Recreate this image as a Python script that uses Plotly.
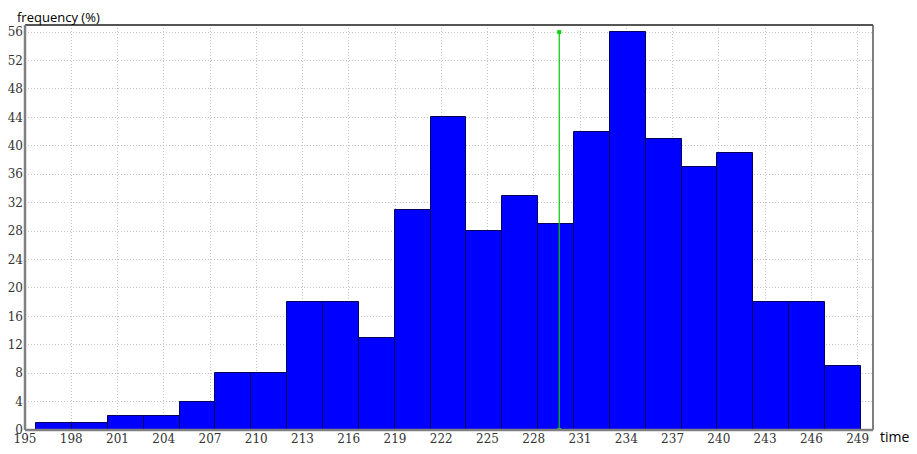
import plotly.graph_objects as go

# data
bin_start = 195.73
bin_width = 2.325
counts = [1, 1, 2, 2, 4, 8, 8, 18, 18, 13, 31, 44, 28, 33, 29, 42, 56, 41, 37, 39, 18, 18, 9]
marker_x = [229.65, 229.65]
marker_y = [0, 56]
x_ticks = list(range(195, 250, 3))
y_ticks = list(range(0, 57, 4))

centers = [bin_start + bin_width * (i + 0.5) for i in range(len(counts))]

fig = go.Figure()
fig.add_trace(go.Bar(
    x=centers, y=counts, width=[bin_width] * len(counts),
    marker=dict(color="#0000FF", line=dict(color="#00005a", width=1)),
    hoverinfo="skip", showlegend=False,
))
fig.add_trace(go.Scatter(
    x=marker_x, y=marker_y, mode="lines+markers",
    line=dict(color="#00c800", width=1.2),
    marker=dict(symbol="square", size=4, color="#10d010"),
    hoverinfo="skip", showlegend=False,
))

tickfont = dict(family="DejaVu Serif", size=12, color="#333333")
fig.update_layout(
    width=909, height=446,
    margin=dict(l=17, r=44, t=17, b=24, autoexpand=False),
    paper_bgcolor="white", plot_bgcolor="white",
    bargap=0,
    xaxis=dict(
        range=[195, 250], tickmode="array", tickvals=x_ticks,
        ticktext=[str(v) for v in x_ticks], automargin=False,
        showgrid=True, gridcolor="#c4c4c4", griddash="1px,2px", gridwidth=1,
        zeroline=False, showline=False, ticks="", tickfont=tickfont,
    ),
    yaxis=dict(
        range=[0, 57], tickmode="array", tickvals=y_ticks,
        ticktext=[str(v) for v in y_ticks], automargin=False,
        showgrid=True, gridcolor="#c4c4c4", griddash="1px,2px", gridwidth=1,
        zeroline=False, showline=False, ticks="", tickfont=tickfont,
        ticklabelstandoff=1,
    ),
    shapes=[
        dict(type="line", xref="paper", yref="paper", x0=0, x1=1, y0=1, y1=1,
             line=dict(color="#555555", width=2)),
        dict(type="line", xref="paper", yref="paper", x0=1, x1=1, y0=0, y1=1,
             line=dict(color="#555555", width=1.5)),
        dict(type="line", xref="paper", yref="paper", x0=0, x1=0, y0=0, y1=1,
             line=dict(color="#808080", width=2.5)),
        dict(type="line", xref="paper", yref="paper", x0=0, x1=1, y0=0, y1=0,
             line=dict(color="#808080", width=2.5)),
    ],
    annotations=[
        dict(text="frequency (%)", xref="paper", yref="paper", x=0, y=1,
             xanchor="left", yanchor="middle", showarrow=False,
             font=dict(family="Open Sans", size=13, color="#000000"),
             xshift=-10, yshift=8),
        dict(text="time", xref="paper", yref="paper", x=1, y=0,
             xanchor="left", yanchor="middle", showarrow=False, xshift=5, yshift=-6,
             font=dict(family="Open Sans", size=14, color="#000000")),
    ],
)
fig.write_html("out.html")
